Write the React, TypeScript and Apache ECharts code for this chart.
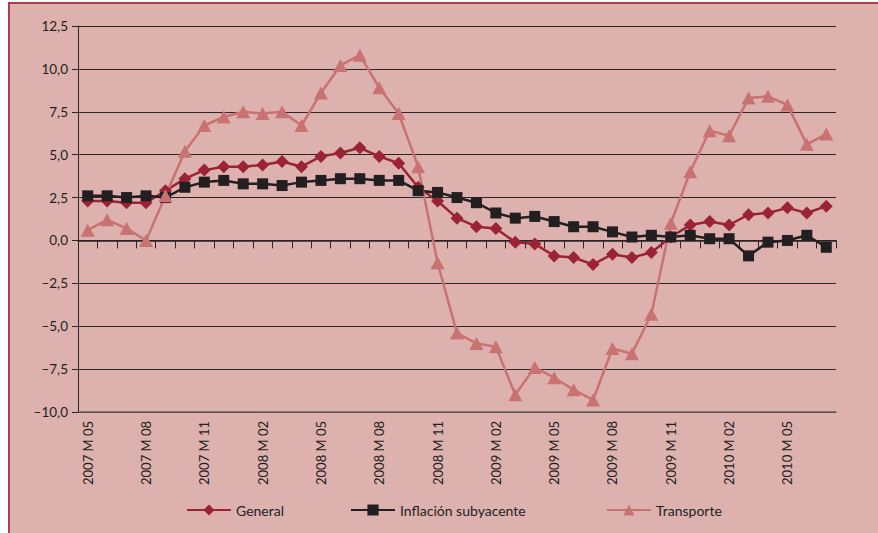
import React, { useEffect, useRef } from "react";
import * as echarts from "echarts";

const months: string[] = [
  "2007 M 05", "2007 M 06", "2007 M 07", "2007 M 08", "2007 M 09", "2007 M 10", "2007 M 11", "2007 M 12",
  "2008 M 01", "2008 M 02", "2008 M 03", "2008 M 04", "2008 M 05", "2008 M 06", "2008 M 07", "2008 M 08",
  "2008 M 09", "2008 M 10", "2008 M 11", "2008 M 12", "2009 M 01", "2009 M 02", "2009 M 03", "2009 M 04",
  "2009 M 05", "2009 M 06", "2009 M 07", "2009 M 08", "2009 M 09", "2009 M 10", "2009 M 11", "2009 M 12",
  "2010 M 01", "2010 M 02", "2010 M 03", "2010 M 04", "2010 M 05", "2010 M 06", "2010 M 07",
];

const general: number[] = [
  2.3, 2.3, 2.2, 2.2, 2.9, 3.6, 4.1, 4.3, 4.3, 4.4, 4.6, 4.3, 4.9, 5.1, 5.4, 4.9, 4.5, 3.1, 2.3, 1.3,
  0.8, 0.7, -0.1, -0.2, -0.9, -1.0, -1.4, -0.8, -1.0, -0.7, 0.2, 0.9, 1.1, 0.9, 1.5, 1.6, 1.9, 1.6, 2.0,
];

const subyacente: number[] = [
  2.6, 2.6, 2.5, 2.6, 2.5, 3.1, 3.4, 3.5, 3.3, 3.3, 3.2, 3.4, 3.5, 3.6, 3.6, 3.5, 3.5, 2.9, 2.8, 2.5,
  2.2, 1.6, 1.3, 1.4, 1.1, 0.8, 0.8, 0.5, 0.2, 0.3, 0.2, 0.3, 0.1, 0.1, -0.9, -0.1, 0.0, 0.3, -0.4,
];

const transporte: number[] = [
  0.6, 1.2, 0.7, 0.0, 2.6, 5.2, 6.7, 7.2, 7.5, 7.4, 7.5, 6.7, 8.6, 10.2, 10.8, 8.9, 7.4, 4.3, -1.3, -5.4,
  -6.0, -6.2, -9.0, -7.4, -8.0, -8.7, -9.3, -6.3, -6.6, -4.3, 1.0, 4.0, 6.4, 6.1, 8.3, 8.4, 7.9, 5.6, 6.2,
];

const seriesNames: string[] = ["General", "Inflación subyacente", "Transporte"];

const FONT = "Lato, 'Noto Sans', sans-serif";
const TEXT = "#231f20";

export default function App() {
  const ref = useRef<HTMLDivElement>(null);

  useEffect(() => {
    if (!ref.current) return;
    const chart = echarts.init(ref.current, undefined, { renderer: "svg" });
    const legendBase = {
      orient: "horizontal",
      top: 503,
      padding: 0,
      itemWidth: 44,
      itemHeight: 14,
      itemGap: 6,
      textStyle: { fontFamily: FONT, fontSize: 14, color: TEXT },
    };
    chart.setOption({
      animation: false,
      backgroundColor: "transparent",
      grid: { left: 78, right: 42, top: 26, bottom: 121, containLabel: false },
      legend: [
        { ...legendBase, left: 186, data: [seriesNames[0]] },
        { ...legendBase, left: 350, data: [seriesNames[1]] },
        { ...legendBase, left: 606, data: [seriesNames[2]] },
      ],
      xAxis: [
        {
          type: "category",
          data: months,
          boundaryGap: true,
          position: "bottom",
          axisLine: { onZero: false, lineStyle: { color: "#6f6060", width: 1.5 } },
          axisTick: { show: false },
          axisLabel: {
            interval: 2,
            rotate: 90,
            margin: 9,
            fontFamily: FONT,
            fontSize: 13,
            color: TEXT,
          },
          splitLine: { show: false },
        },
        {
          type: "category",
          data: months,
          boundaryGap: true,
          position: "bottom",
          axisLine: { onZero: true, lineStyle: { color: "#2a2424", width: 1.5 } },
          axisTick: { show: true, interval: 0, length: 8, lineStyle: { color: "#2a2424", width: 1 } },
          axisLabel: { show: false },
          splitLine: { show: false },
        },
      ],
      yAxis: {
        type: "value",
        min: -10,
        max: 12.5,
        interval: 2.5,
        axisLine: { show: true, onZero: false, lineStyle: { color: "#2a2424", width: 1 } },
        axisTick: { show: true, length: 6, lineStyle: { color: "#2a2424" } },
        axisLabel: {
          margin: 10,
          fontFamily: FONT,
          fontSize: 13.5,
          color: TEXT,
          formatter: (v: number) => v.toFixed(1).replace(".", ",").replace("-", "\u2013"),
        },
        splitLine: { show: true, lineStyle: { color: "#2e2626", width: 1 } },
      },
      series: [
        {
          name: seriesNames[0],
          type: "line",
          data: general,
          xAxisIndex: 0,
          symbol: "diamond",
          symbolSize: 13,
          showAllSymbol: true,
          lineStyle: { color: "#9b2335", width: 2.5 },
          itemStyle: { color: "#9b2335" },
        },
        {
          name: seriesNames[1],
          type: "line",
          data: subyacente,
          xAxisIndex: 0,
          symbol: "rect",
          symbolSize: 11,
          showAllSymbol: true,
          lineStyle: { color: "#231f20", width: 2.5 },
          itemStyle: { color: "#231f20" },
        },
        {
          name: seriesNames[2],
          type: "line",
          data: transporte,
          xAxisIndex: 0,
          symbol: "triangle",
          symbolSize: [14, 13],
          showAllSymbol: true,
          lineStyle: { color: "#c97272", width: 2.5 },
          itemStyle: { color: "#c97272" },
        },
      ],
    });
    return () => chart.dispose();
  }, []);

  return (
    <div style={{ position: "absolute", left: 0, top: 0, width: 878, height: 533, background: "#ffffff", overflow: "hidden" }}>
      <div
        style={{
          position: "absolute",
          left: 8,
          top: 2,
          width: 872,
          height: 533,
          background: "#ddb1ae",
          borderLeft: "2px solid #b33a4a",
          borderTop: "2px solid #b33a4a",
          boxSizing: "border-box",
        }}
      />
      <div ref={ref} style={{ position: "absolute", left: 0, top: 0, width: 878, height: 533 }} />
    </div>
  );
}
